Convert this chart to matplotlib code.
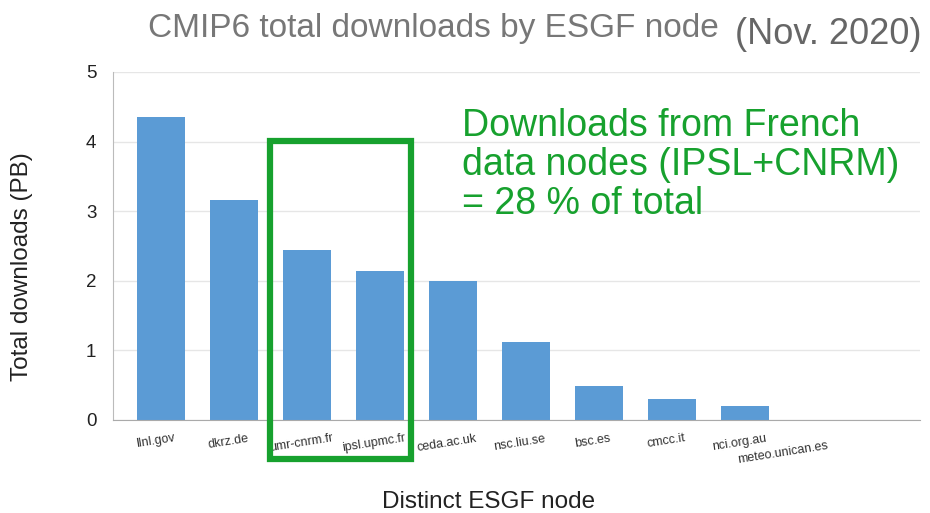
import matplotlib
matplotlib.use("Agg")
import matplotlib.pyplot as plt
from matplotlib.patches import Rectangle
from matplotlib.transforms import ScaledTranslation

plt.rcParams['font.family'] = ['Liberation Sans', 'DejaVu Sans']

# total CMIP6 downloads per ESGF node (PB), Nov. 2020
nodes = ['llnl.gov', 'dkrz.de', 'umr-cnrm.fr', 'ipsl.upmc.fr', 'ceda.ac.uk',
         'nsc.liu.se', 'bsc.es', 'cmcc.it', 'nci.org.au', 'meteo.unican.es']
downloads = [4.35, 3.16, 2.44, 2.14, 2.0, 1.12, 0.49, 0.30, 0.20, 0.005]

fig = plt.figure(figsize=(9.3, 5.13), dpi=100)
ax = fig.add_axes([113/930, 1 - 420/513, (920-113)/930, (420-72)/513])

x = range(len(nodes))
ax.bar(x, downloads, width=0.66, color='#5b9bd5', zorder=2)
ax.set_xlim(-0.66, 10.4)
ax.set_ylim(0, 5)
ax.set_yticks([0, 1, 2, 3, 4, 5])
ax.grid(axis='y', color='#e6e6e6', lw=1, zorder=0)
for s in ['top', 'right']:
    ax.spines[s].set_visible(False)
ax.spines['left'].set_color('#bbbbbb')
ax.spines['bottom'].set_color('#aaaaaa')
ax.tick_params(axis='y', length=0, labelsize=13.5, pad=12, labelcolor='#222222')
ax.tick_params(axis='x', length=0, pad=9)
ax.set_xticks(list(x))
ax.set_xticklabels(nodes, rotation=9, fontsize=9, color='#333333')
# nudge labels left a bit, last one sits lower like in the original
for i, lbl in enumerate(ax.get_xticklabels()):
    dx, dy = -6, 0
    if i == len(nodes) - 1:
        dx, dy = -35, -7
    lbl.set_transform(lbl.get_transform() +
                      ScaledTranslation(dx/100, dy/100, fig.dpi_scale_trans))

fig.text(22/930, 1 - 267/513, 'Total downloads (PB)', rotation=90,
         ha='center', va='center', fontsize=17.5, color='#222222')
fig.text(489/930, 1 - 502/513, 'Distinct ESGF node', ha='center', va='center',
         fontsize=17.5, color='#222222')

fig.text(148/930, 1 - 29/513, 'CMIP6 total downloads by ESGF node',
         ha='left', va='center', fontsize=24, color='#777777')
fig.text(735/930, 1 - 35/513, '(Nov. 2020)', ha='left', va='center',
         fontsize=26, color='#666666')

fig.text(462/930, 1 - 165/513,
         'Downloads from French\ndata nodes (IPSL+CNRM)\n= 28 % of total',
         ha='left', va='center', fontsize=27, color='#17a12e', linespacing=1.1)

fig.patches.append(Rectangle((270/930, 1 - 459/513), (411-270)/930, (459-141)/513,
                             transform=fig.transFigure, fill=False,
                             edgecolor='#17a12e', lw=4.5, zorder=5))

fig.savefig('out.png', dpi=100)
